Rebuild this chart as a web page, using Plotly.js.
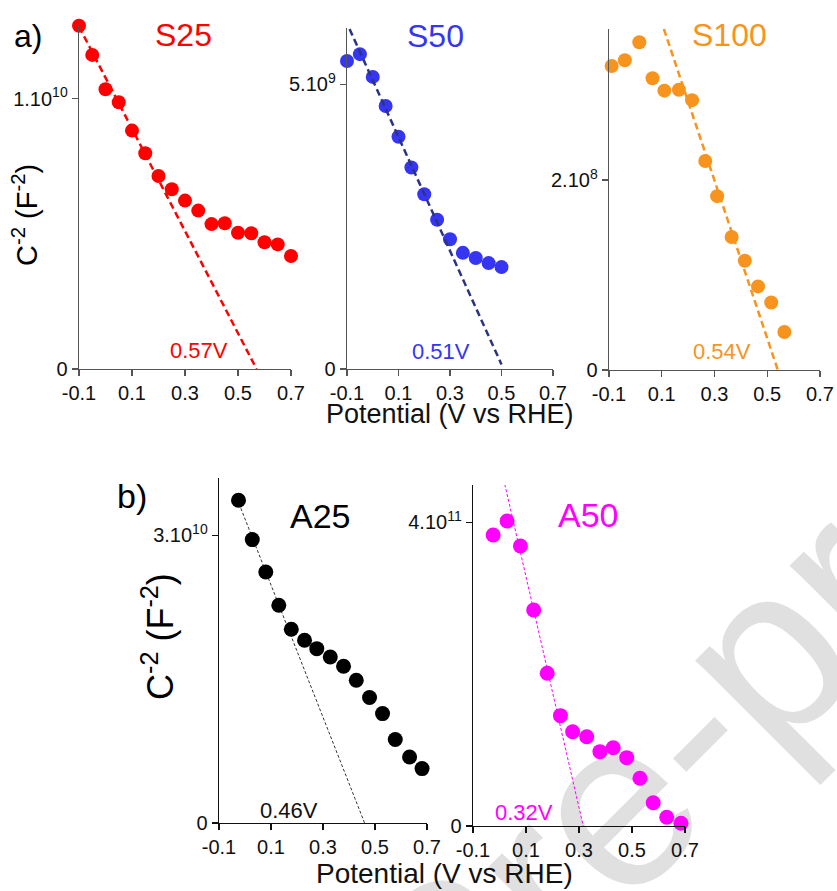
<!DOCTYPE html>
<html>
<head>
<meta charset="utf-8">
<script src="https://cdn.plot.ly/plotly-3.0.1.min.js"></script>
<style>html,body{margin:0;padding:0;background:#fff;}#chart{width:837px;height:891px;}</style>
</head>
<body>
<div id="chart"></div>
<script>
// ---------- data ----------
const xTickVals = [-0.1, 0.1, 0.3, 0.5, 0.7];
const xTickText = ['-0.1', '0.1', '0.3', '0.5', '0.7'];

const S25_V = [-0.1,-0.05,0,0.05,0.1,0.15,0.2,0.25,0.3,0.35,0.4,0.45,0.5,0.55,0.6,0.65,0.7];
const S25_C = [1.270e10,1.162e10,1.035e10,0.987e10,0.882e10,0.798e10,0.714e10,0.665e10,0.623e10,0.586e10,0.536e10,0.539e10,0.504e10,0.502e10,0.469e10,0.461e10,0.418e10];
const S25_fitV = [-0.1, 0.57];
const S25_fitC = [1.267e10, 0];

const S50_V = [-0.1,-0.05,0,0.05,0.1,0.15,0.2,0.25,0.3,0.35,0.4,0.45,0.5];
const S50_C = [5.41e9,5.53e9,5.13e9,4.62e9,4.08e9,3.54e9,3.07e9,2.62e9,2.28e9,2.04e9,1.95e9,1.86e9,1.79e9];
const S50_fitV = [-0.09, 0.5];
const S50_fitC = [5.97e9, 0.08e9];

const S100_V = [-0.09,-0.04,0.015,0.065,0.11,0.165,0.215,0.265,0.31,0.365,0.415,0.465,0.515,0.565];
const S100_C = [3.20e8,3.26e8,3.45e8,3.07e8,2.94e8,2.95e8,2.84e8,2.20e8,1.83e8,1.40e8,1.15e8,0.88e8,0.71e8,0.40e8];
const S100_fitV = [0.108, 0.54];
const S100_fitC = [3.59e8, 0];

const A25_V = [-0.025,0.028,0.08,0.13,0.178,0.229,0.276,0.328,0.379,0.428,0.479,0.529,0.578,0.633,0.681];
const A25_C = [3.365e10,2.955e10,2.617e10,2.27e10,2.02e10,1.905e10,1.818e10,1.731e10,1.634e10,1.488e10,1.308e10,1.141e10,0.870e10,0.688e10,0.567e10];
const A25_fitV = [-0.023, 0.46];
const A25_fitC = [3.33e10, 0];

const A50_V = [-0.024,0.0285,0.079,0.129,0.18,0.23,0.276,0.329,0.379,0.429,0.48,0.53,0.58,0.631,0.685];
const A50_C = [3.833e11,4.017e11,3.688e11,2.845e11,2.011e11,1.453e11,1.242e11,1.176e11,0.979e11,1.031e11,0.900e11,0.628e11,0.307e11,0.115e11,0.036e11];
const A50_fitV = [0.02, 0.316];
const A50_fitC = [4.50e11, 0];

const yTicks = {
  S25: {vals: [0, 1e10], text: ['0', '1.10<sup>10</sup>']},
  S50: {vals: [0, 5e9], text: ['0', '5.10<sup>9</sup>']},
  S100: {vals: [0, 2e8], text: ['0', '2.10<sup>8</sup>']},
  A25: {vals: [0, 3e10], text: ['0', '3.10<sup>10</sup>']},
  A50: {vals: [0, 4e11], text: ['0', '4.10<sup>11</sup>']}
};

// ---------- layout helpers ----------
const W = 837, H = 891;
const FONT = 'Arial, "Liberation Sans", sans-serif';
const px = v => v / W;
const py = v => 1 - v / H;

const RED = '#ff0000', BLUE = '#3535f2', NAVY = '#2b3480', ORANGE = '#f7941d', MAGENTA = '#ff00ff', BLACK = '#000000';

function xAxis(d0, d1, anchor, col) {
  return {domain: [px(d0), px(d1)], range: [-0.1, 0.7], anchor: anchor,
    showline: true, linecolor: col, linewidth: 1.3, ticks: 'outside', ticklen: 6, tickcolor: col, tickwidth: 1.3,
    tickvals: xTickVals, ticktext: xTickText, tickfont: {family: FONT, size: 20, color: '#111'},
    showgrid: false, zeroline: false, fixedrange: true};
}
function yAxis(top, bot, ymax, anchor, col, t) {
  return {domain: [py(bot), py(top)], range: [0, ymax], anchor: anchor,
    showline: true, linecolor: col, linewidth: 1.3, ticks: 'outside', ticklen: 6, tickcolor: col, tickwidth: 1.3,
    tickvals: t.vals, ticktext: t.text, tickfont: {family: FONT, size: 20, color: '#111'},
    showgrid: false, zeroline: false, fixedrange: true};
}

function pts(x, y, xa, ya, color, size) {
  return {x: x, y: y, xaxis: xa, yaxis: ya, type: 'scatter', mode: 'markers', cliponaxis: false,
    marker: {color: color, size: size, line: {width: 0}}, showlegend: false, hoverinfo: 'skip'};
}
function fit(x, y, xa, ya, color, width, dash) {
  return {x: x, y: y, xaxis: xa, yaxis: ya, type: 'scatter', mode: 'lines', cliponaxis: false,
    line: {color: color, width: width, dash: dash}, showlegend: false, hoverinfo: 'skip'};
}

const traces = [
  pts(S25_V, S25_C, 'x', 'y', RED, 14),
  fit(S25_fitV, S25_fitC, 'x', 'y', RED, 2.5, '7px,4px'),
  pts(S50_V, S50_C, 'x2', 'y2', BLUE, 14),
  fit(S50_fitV, S50_fitC, 'x2', 'y2', NAVY, 2.5, '7px,4px'),
  pts(S100_V, S100_C, 'x3', 'y3', ORANGE, 14),
  fit(S100_fitV, S100_fitC, 'x3', 'y3', ORANGE, 2.5, '7px,4px'),
  fit(A25_fitV, A25_fitC, 'x4', 'y4', '#333', 1, '3px,2px'),
  pts(A25_V, A25_C, 'x4', 'y4', BLACK, 15),
  fit(A50_fitV, A50_fitC, 'x5', 'y5', MAGENTA, 1, '3px,2px'),
  pts(A50_V, A50_C, 'x5', 'y5', MAGENTA, 15)
];

function ann(text, x, y, size, color, extra) {
  return Object.assign({text: text, x: px(x), y: py(y), xref: 'paper', yref: 'paper',
    xanchor: 'center', yanchor: 'middle', showarrow: false,
    font: {family: FONT, size: size, color: color}}, extra || {});
}

const annotations = [
  ann('a)', 28, 36, 32, BLACK),
  ann('S25', 183, 35, 32, RED),
  ann('S50', 435, 36, 32, BLUE),
  ann('S100', 729, 35, 32, ORANGE),
  ann('0.57V', 199, 350, 22, RED),
  ann('0.51V', 441, 351, 22, BLUE),
  ann('0.54V', 722, 351, 22, ORANGE),
  ann('C<sup>-2</sup> (F<sup>-2</sup>)', 25, 215, 29, BLACK, {textangle: -90}),
  ann('Potential (V vs RHE)', 450, 414, 27, '#111'),
  ann('b)', 132, 496, 34, BLACK),
  ann('A25', 320, 516, 34, BLACK),
  ann('A50', 588, 515, 34, MAGENTA),
  ann('0.46V', 289, 810, 22, '#111'),
  ann('0.32V', 524, 812, 22, MAGENTA),
  ann('C<sup>-2</sup> (F<sup>-2</sup>)', 158, 637, 36, BLACK, {textangle: -90}),
  ann('Potential (V vs RHE)', 445, 873, 28, '#111')
];

const shapes = [{
  type: 'rect', xref: 'paper', yref: 'paper', x0: px(410), x1: px(450), y0: py(975), y1: py(935),
  line: {width: 0}, fillcolor: 'rgba(0,0,0,0)', layer: 'below',
  label: {text: 'Journal Pre-proof', textangle: -45, textposition: 'middle center',
    font: {family: FONT, size: 240, color: '#e0e0e0'}}
}];

const layout = {
  width: W, height: H, margin: {l: 0, r: 0, t: 0, b: 0},
  paper_bgcolor: '#ffffff', plot_bgcolor: 'rgba(0,0,0,0)',
  showlegend: false,
  xaxis: xAxis(79, 291, 'y', '#555'),
  yaxis: yAxis(25, 369, 1.2727e10, 'x', '#555', yTicks.S25),
  xaxis2: xAxis(347, 553, 'y2', '#555'),
  yaxis2: yAxis(28, 369, 5.989e9, 'x2', '#555', yTicks.S50),
  xaxis3: xAxis(609, 820, 'y3', '#555'),
  yaxis3: yAxis(29, 370, 3.589e8, 'x3', '#555', yTicks.S100),
  xaxis4: xAxis(219, 427, 'y4', '#111'),
  yaxis4: yAxis(478, 823, 3.5975e10, 'x4', '#111', yTicks.A25),
  xaxis5: xAxis(473, 685, 'y5', '#111'),
  yaxis5: yAxis(485, 826, 4.491e11, 'x5', '#111', yTicks.A50),
  annotations: annotations,
  shapes: shapes
};

Plotly.newPlot('chart', traces, layout, {staticPlot: true, displayModeBar: false});
</script>
</body>
</html>
